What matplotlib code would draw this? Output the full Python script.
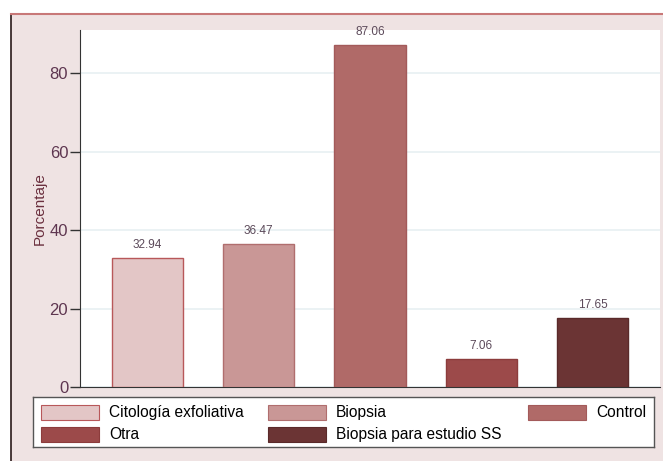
import matplotlib.pyplot as plt
from matplotlib.patches import Rectangle
from matplotlib.lines import Line2D

categorias = ["Citología exfoliativa", "Biopsia", "Control", "Otra", "Biopsia para estudio SS"]
porcentajes = [32.94, 36.47, 87.06, 7.06, 17.65]
colores = ["#e3c6c6", "#c99796", "#b06a68", "#9c4a4a", "#6b3434"]
bordes = ["#b8585a", "#b06e6e", "#a35a5a", "#8c3c3c", "#5a2a2a"]
yticks = [0, 20, 40, 60, 80]

plt.rcParams['font.family'] = ['Liberation Sans', 'DejaVu Sans']

W, H = 663, 461
fig = plt.figure(figsize=(W / 100, H / 100), dpi=100)
fig.patch.set_facecolor("white")

# pink graph region with dark left edge and red top edge
fig.patches.append(Rectangle((11 / W, 0), 1 - 11 / W, 1 - 15 / H,
                             transform=fig.transFigure, facecolor="#efe3e3",
                             edgecolor="none", zorder=-10))
fig.lines.append(Line2D([10.5 / W, 10.5 / W], [0, 1 - 14 / H],
                        transform=fig.transFigure, color="#2a1a1a", lw=1.2, zorder=-9))
fig.lines.append(Line2D([11 / W, 1], [1 - 14.5 / H, 1 - 14.5 / H],
                        transform=fig.transFigure, color="#c87878", lw=1.5, zorder=-9))

ax = fig.add_axes([80 / W, 1 - 387 / H, 580 / W, 357 / H])
ax.set_facecolor("white")
x = list(range(len(categorias)))
ax.bar(x, porcentajes, width=0.64, color=colores, edgecolor=bordes, linewidth=1, zorder=3)
for xi, v in zip(x, porcentajes):
    ax.text(xi, v + 1.8, f"{v:.2f}", ha="center", va="bottom", fontsize=8.5, color="#5c4a5a")

ax.set_xlim(-0.607, 4.607)
ax.set_ylim(0, 91)
ax.set_yticks(yticks)
ax.set_xticks([])
ax.yaxis.grid(True, color="#e8f0f2", lw=1.2, zorder=0)
ax.tick_params(axis="y", labelsize=12, labelcolor="#5e3650", color="#333333",
               length=7, width=1, pad=1.5)
ax.set_ylabel("Porcentaje", fontsize=11, color="#6a2f3e", labelpad=2)
for s in ["top", "right"]:
    ax.spines[s].set_visible(False)
ax.spines["left"].set_color("#333333")
ax.spines["bottom"].set_color("#333333")

# legend box drawn in its own axes
lg = fig.add_axes([33 / W, 1 - 447 / H, 621 / W, 50 / H])
lg.set_xlim(33, 654)
lg.set_ylim(447, 397)
lg.set_xticks([])
lg.set_yticks([])
lg.set_facecolor("white")
for s in lg.spines.values():
    s.set_color("#555555")
    s.set_linewidth(1)
pos = [(41, 412.5, "left"), (268, 412.5, "left"), (528, 412.5, "right"),
       (41, 434, "left"), (268, 434, "left")]
for (px, py, al), nombre, c, b in zip(pos, categorias, colores, bordes):
    lg.add_patch(Rectangle((px, py - 7.5), 58, 15, facecolor=c, edgecolor=b, lw=0.8))
    tx = px + 68 if al == "left" else 646
    lg.text(tx, py, nombre, ha=al, va="center", fontsize=11.2, color="black")

fig.savefig("out.png", dpi=100)
